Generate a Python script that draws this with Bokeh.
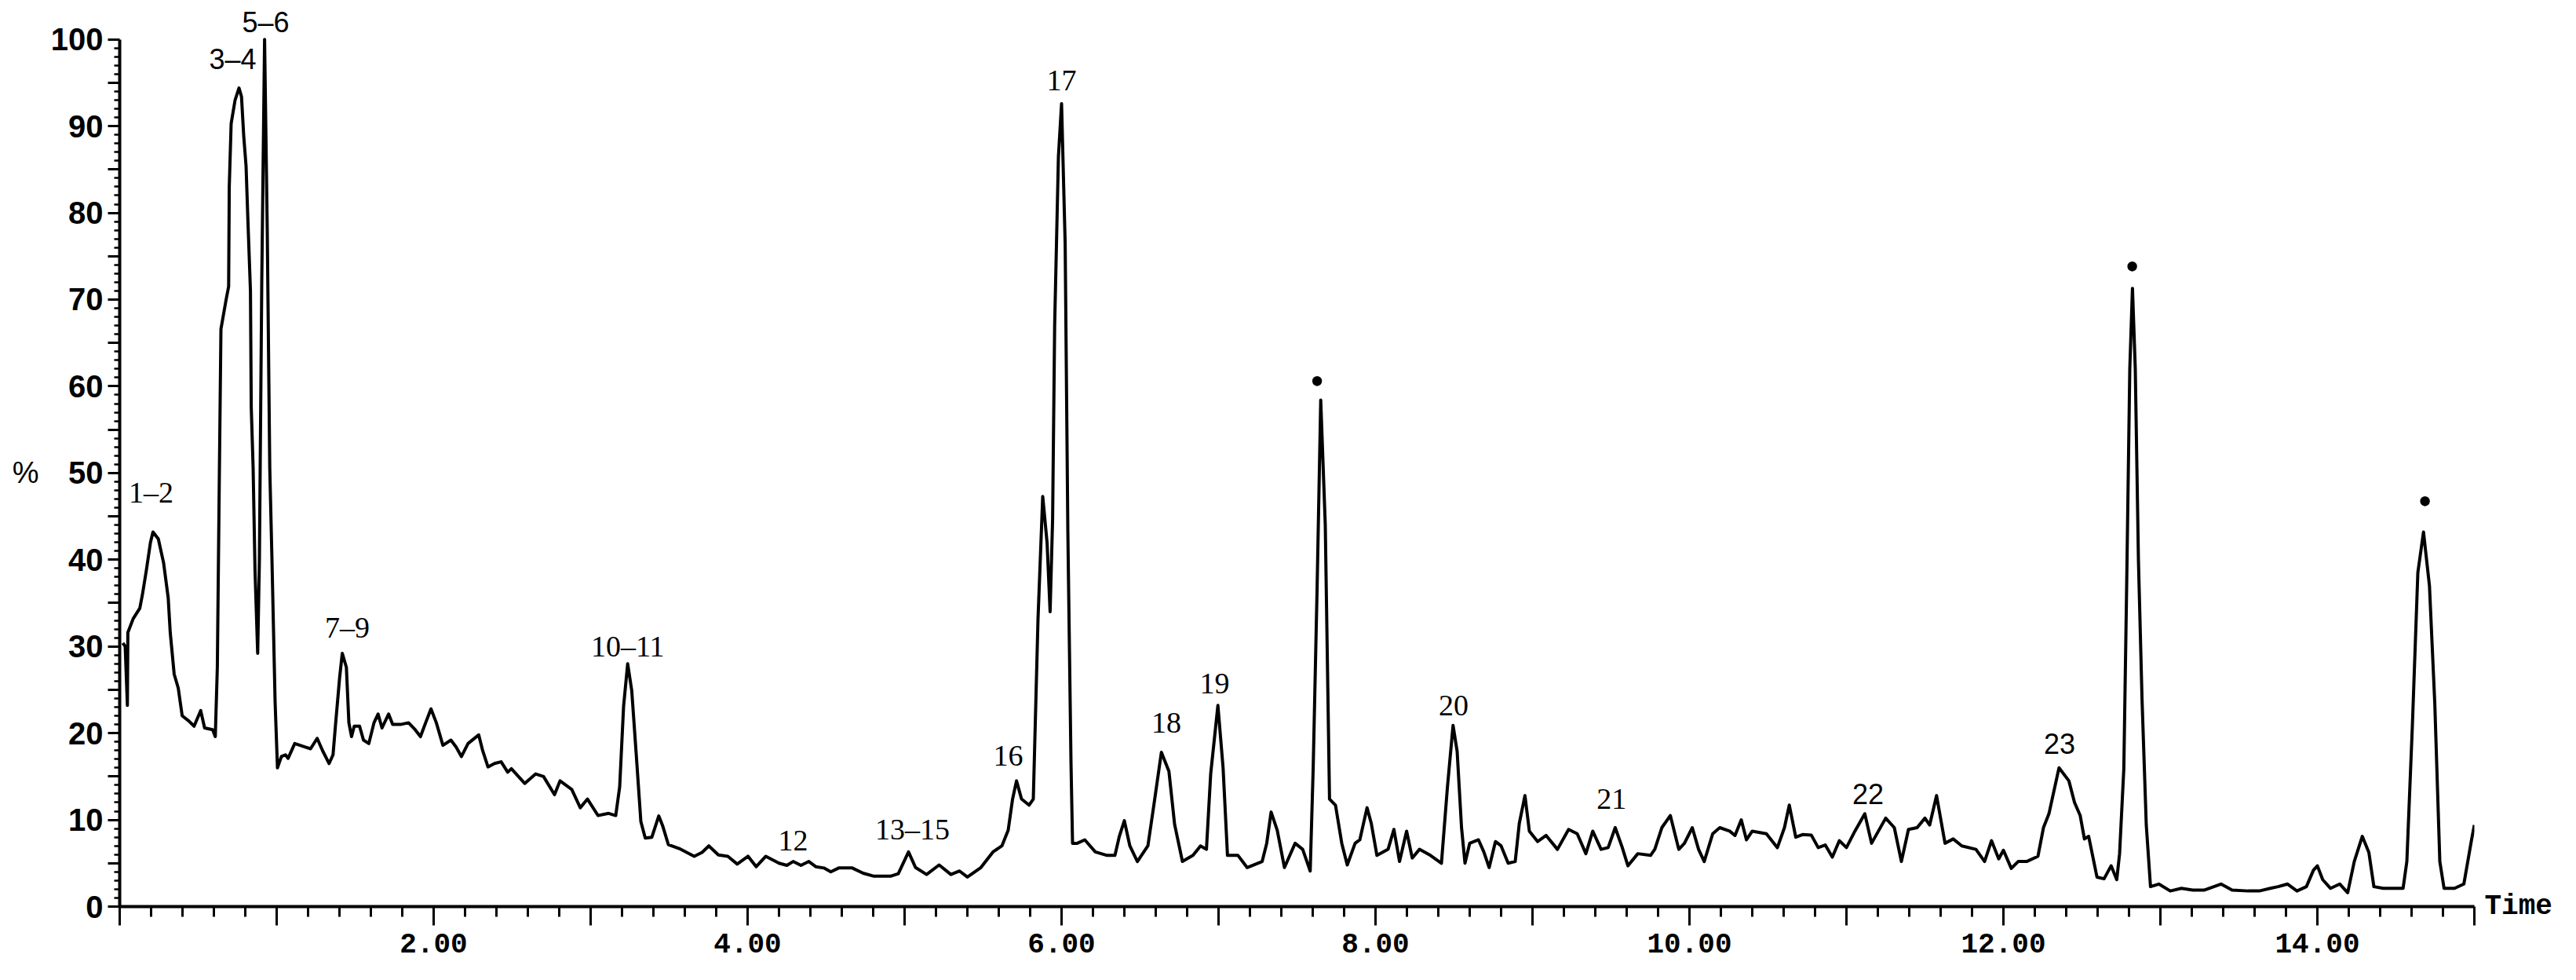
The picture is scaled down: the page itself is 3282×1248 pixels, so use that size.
from bokeh.plotting import figure
from bokeh.models import Range1d, FixedTicker, Label, LinearAxis
from bokeh.embed import file_html
from bokeh.resources import INLINE

# Retention time (min) and relative intensity (%)
rt_min = [
    0.02, 0.035, 0.049, 0.052, 0.086, 0.128, 0.145, 0.17, 0.196, 0.212, 0.246, 0.28, 0.309, 0.322,
    0.347, 0.373, 0.398, 0.44, 0.474, 0.516, 0.541, 0.592, 0.609, 0.622, 0.635, 0.645, 0.678, 0.694,
    0.698, 0.71, 0.735, 0.76, 0.776, 0.79, 0.805, 0.817, 0.833, 0.838, 0.85, 0.862, 0.879, 0.89,
    0.905, 0.923, 0.94, 0.956, 0.97, 0.99, 1.005, 1.03, 1.056, 1.073, 1.115, 1.182, 1.216, 1.258,
    1.292, 1.334, 1.359, 1.376, 1.401, 1.418, 1.444, 1.46, 1.477, 1.494, 1.528, 1.553, 1.587, 1.62,
    1.646, 1.671, 1.713, 1.739, 1.789, 1.84, 1.882, 1.916, 1.949, 1.983, 2.017, 2.059, 2.11, 2.143,
    2.177, 2.219, 2.287, 2.312, 2.346, 2.388, 2.43, 2.472, 2.495, 2.58, 2.65, 2.70, 2.77, 2.805,
    2.88, 2.934, 2.98, 3.047, 3.115, 3.16, 3.185, 3.21, 3.236, 3.262, 3.29, 3.32, 3.348, 3.39,
    3.434, 3.46, 3.495, 3.564, 3.66, 3.71, 3.753, 3.814, 3.874, 3.934, 4.003, 4.055, 4.116, 4.2,
    4.25, 4.29, 4.34, 4.39, 4.434, 4.486, 4.53, 4.58, 4.667, 4.736, 4.805, 4.91, 4.96, 5.025,
    5.07, 5.14, 5.22, 5.295, 5.35, 5.40, 5.486, 5.563, 5.62, 5.66, 5.688, 5.713, 5.745, 5.793,
    5.82, 5.85, 5.88, 5.908, 5.927, 5.943, 5.956, 5.98, 6.0, 6.023, 6.04, 6.06, 6.07, 6.10,
    6.148, 6.215, 6.29, 6.34, 6.368, 6.40, 6.435, 6.483, 6.55, 6.588, 6.636, 6.684, 6.72, 6.77,
    6.837, 6.885, 6.923, 6.95, 6.996, 7.029, 7.057, 7.124, 7.182, 7.278, 7.307, 7.335, 7.374, 7.42,
    7.488, 7.536, 7.584, 7.603, 7.628, 7.651, 7.68, 7.707, 7.745, 7.785, 7.82, 7.87, 7.90, 7.946,
    7.973, 8.009, 8.08, 8.117, 8.153, 8.198, 8.234, 8.28, 8.35, 8.42, 8.458, 8.494, 8.52, 8.548,
    8.57, 8.60, 8.656, 8.69, 8.724, 8.764, 8.80, 8.845, 8.89, 8.916, 8.952, 8.98, 9.033, 9.087,
    9.159, 9.23, 9.285, 9.34, 9.384, 9.437, 9.482, 9.527, 9.572, 9.608, 9.671, 9.752, 9.779, 9.824,
    9.878, 9.932, 9.968, 10.018, 10.058, 10.094, 10.148, 10.193, 10.256, 10.29, 10.33, 10.363, 10.40, 10.49,
    10.56, 10.605, 10.636, 10.677, 10.72, 10.776, 10.82, 10.865, 10.91, 10.955, 11.0, 11.054, 11.117, 11.16,
    11.25, 11.305, 11.35, 11.395, 11.45, 11.5, 11.53, 11.574, 11.628, 11.68, 11.735, 11.825, 11.88, 11.924,
    11.97, 12.0, 12.05, 12.094, 12.148, 12.22, 12.255, 12.29, 12.354, 12.417, 12.453, 12.489, 12.516, 12.543,
    12.596, 12.641, 12.686, 12.722, 12.74, 12.767, 12.785, 12.805, 12.822, 12.84, 12.86, 12.883, 12.91, 12.937,
    12.99, 13.063, 13.134, 13.206, 13.278, 13.386, 13.457, 13.56, 13.63, 13.70, 13.75, 13.81, 13.87, 13.93,
    13.975, 14.0, 14.034, 14.084, 14.143, 14.193, 14.235, 14.286, 14.328, 14.36, 14.42, 14.487, 14.546, 14.57,
    14.605, 14.64, 14.676, 14.714, 14.748, 14.78, 14.807, 14.874, 14.933, 14.958, 14.983, 15.0,
]
intensity = [
    30.4, 30.0, 23.2, 31.6, 33.2, 34.4, 36.0, 38.8, 42.0, 43.2, 42.4, 39.6, 35.6, 31.6,
    26.8, 25.2, 22.0, 21.4, 20.8, 22.6, 20.6, 20.4, 19.6, 27.6, 50.0, 66.6, 70.0, 71.5,
    83.0, 90.3, 93.0, 94.4, 93.4, 88.9, 85.4, 79.0, 71.0, 57.6, 50.6, 38.8, 29.2, 40.0,
    72.0, 100.0, 78.0, 50.6, 40.0, 23.6, 16.0, 17.3, 17.5, 17.1, 18.8, 18.4, 18.2, 19.4,
    18.0, 16.5, 17.5, 21.2, 26.4, 29.2, 27.6, 21.2, 19.6, 20.8, 20.8, 19.2, 18.8, 21.2,
    22.2, 20.6, 22.2, 21.0, 21.0, 21.2, 20.4, 19.6, 21.2, 22.8, 21.2, 18.6, 19.2, 18.4,
    17.3, 18.8, 19.8, 18.0, 16.1, 16.5, 16.7, 15.5, 15.9, 14.2, 15.3, 15.0, 12.9, 14.5,
    13.5, 11.4, 12.4, 10.5, 10.75, 10.5, 13.8, 23.1, 28.0, 24.9, 17.7, 9.8, 7.9, 8.0,
    10.45, 9.25, 7.15, 6.7, 5.8, 6.25, 7.0, 5.95, 5.8, 4.9, 5.8, 4.6, 5.8, 5.0,
    4.75, 5.2, 4.75, 5.2, 4.6, 4.45, 4.0, 4.45, 4.45, 3.85, 3.5, 3.5, 3.8, 6.3,
    4.5, 3.7, 4.8, 3.7, 4.1, 3.4, 4.5, 6.3, 7.0, 8.8, 12.4, 14.5, 12.4, 11.7,
    12.4, 33.2, 47.3, 41.9, 34.0, 44.7, 67.0, 86.5, 92.6, 76.4, 43.3, 16.7, 7.3, 7.3,
    7.7, 6.3, 5.9, 5.9, 8.1, 9.9, 7.0, 5.2, 7.0, 11.7, 17.8, 15.6, 9.5, 5.2,
    5.9, 7.0, 6.6, 15.3, 23.2, 16.0, 5.9, 5.9, 4.5, 5.2, 7.3, 10.9, 8.8, 4.5,
    7.3, 6.6, 4.1, 16.0, 36.8, 58.4, 44.0, 12.4, 11.7, 7.3, 4.8, 7.3, 7.7, 11.4,
    9.6, 5.9, 6.6, 8.9, 5.2, 8.7, 5.6, 6.6, 5.9, 5.0, 13.75, 20.9, 17.9, 9.1,
    5.0, 7.3, 7.7, 6.3, 4.5, 7.5, 7.0, 5.0, 5.2, 9.6, 12.8, 8.7, 7.5, 8.2,
    6.6, 8.9, 8.4, 6.1, 8.7, 6.6, 6.8, 9.1, 6.8, 4.7, 6.1, 5.9, 6.6, 9.1,
    10.5, 6.6, 7.3, 9.1, 6.6, 5.2, 8.4, 9.1, 8.7, 8.2, 10.0, 7.7, 8.7, 8.4,
    6.8, 9.1, 11.7, 8.0, 8.3, 8.25, 6.8, 7.1, 5.7, 7.6, 6.8, 8.7, 10.7, 7.3,
    10.2, 9.1, 5.2, 8.9, 9.1, 10.2, 9.4, 12.8, 7.3, 7.8, 7.0, 6.6, 5.2, 7.6,
    5.5, 6.5, 4.4, 5.2, 5.2, 5.8, 9.1, 10.7, 16.0, 14.5, 12.0, 10.5, 7.8, 8.1,
    3.4, 3.2, 4.7, 3.1, 6.1, 15.9, 36.9, 62.0, 71.3, 62.0, 40.0, 23.9, 9.4, 2.3,
    2.6, 1.8, 2.1, 1.9, 1.9, 2.6, 1.9, 1.8, 1.8, 2.1, 2.3, 2.6, 1.8, 2.3,
    4.2, 4.7, 3.1, 2.1, 2.6, 1.6, 5.2, 8.1, 6.25, 2.3, 2.1, 2.1, 2.1, 5.2,
    20.8, 38.5, 43.2, 37.0, 23.4, 5.2, 2.1, 2.1, 2.6, 5.2, 7.8, 9.4,
]

# Peak annotations
peak_labels = ["1–2", "3–4", "5–6", "7–9", "10–11", "12", "13–15", "16", "17", "18", "19",
               "•", "20", "21", "22", "23", "•", "•"]
label_t = [0.20, 0.72, 0.93, 1.45, 3.236, 4.29, 5.05, 5.66, 6.0, 6.667, 6.975,
           7.628, 8.498, 9.504, 11.138, 12.358, 12.82, 14.686]
label_v = [47.8, 97.7, 102.0, 32.2, 30.0, 7.6, 8.9, 17.4, 95.3, 21.2, 25.7,
           60.6, 23.2, 12.4, 13.0, 18.8, 73.8, 46.7]
sans_labels = {"3–4", "5–6", "22", "23"}

x_major = list(range(0, 16))
x_labelled = [2, 4, 6, 8, 10, 12, 14]
y_major = list(range(0, 101, 5))
y_labelled = list(range(0, 101, 10))
y_title = "%"
x_title = "Time"

p = figure(frame_width=3000, frame_height=1154,
           x_range=Range1d(0, 15), y_range=Range1d(0, 104.5),
           output_backend="svg", toolbar_location=None,
           min_border_left=152, min_border_right=110,
           min_border_top=0, min_border_bottom=70)
p.outline_line_color = None
p.xgrid.visible = False
p.ygrid.visible = False
p.background_fill_color = "white"
p.border_fill_color = "white"

p.line(rt_min, intensity, line_color="black", line_width=4, line_join="round")

# x axis
xa = p.xaxis[0]
xa.ticker = FixedTicker(ticks=x_major,
                        minor_ticks=[round(i * 0.2, 1) for i in range(76) if i % 5 != 0])
xa.major_label_overrides = {float(t): ("%.2f" % t if t in x_labelled else "") for t in x_major}
xa.axis_line_width = 4
xa.axis_line_color = "black"
xa.major_tick_line_width = 3
xa.minor_tick_line_width = 3
xa.major_tick_out = 24
xa.major_tick_in = 0
xa.minor_tick_out = 13
xa.minor_tick_in = 0
xa.major_label_standoff = 10
xa.major_label_text_font = "Liberation Mono"
xa.major_label_text_font_style = "bold"
xa.major_label_text_font_size = "36px"
xa.major_label_text_color = "black"

# y axis (line stops at 100 although the frame goes a little higher)
ya = p.yaxis[0]
ya.bounds = (0, 100)
ya.ticker = FixedTicker(ticks=y_major, minor_ticks=[i for i in range(1, 100) if i % 5 != 0])
ya.major_label_overrides = {float(t): (str(t) if t in y_labelled else "") for t in y_major}
ya.axis_line_width = 4
ya.axis_line_color = "black"
ya.major_tick_line_width = 3
ya.minor_tick_line_width = 2.5
ya.major_tick_out = 15
ya.major_tick_in = 0
ya.minor_tick_out = 7
ya.minor_tick_in = 0
ya.major_label_standoff = 6
ya.major_label_text_font = "Liberation Sans"
ya.major_label_text_font_style = "bold"
ya.major_label_text_font_size = "40px"
ya.major_label_text_color = "black"

# "%" title, left of the y tick labels
pct_axis = LinearAxis(ticker=FixedTicker(ticks=[50]), major_label_overrides={50.0: y_title},
                      axis_line_color=None, major_tick_line_color=None, minor_tick_line_color=None,
                      major_tick_out=0, major_tick_in=0, minor_tick_out=0, minor_tick_in=0,
                      major_label_standoff=12, major_label_text_font="Liberation Sans",
                      major_label_text_font_size="38px", major_label_text_color="black")
p.add_layout(pct_axis, "left")

# "Time" title, at the right end of the x axis
time_axis = LinearAxis(ticker=FixedTicker(ticks=[0]), major_label_overrides={0.0: x_title},
                       axis_line_color=None, major_tick_line_color=None, minor_tick_line_color=None,
                       major_tick_out=0, major_tick_in=0, minor_tick_out=0, minor_tick_in=0,
                       major_label_standoff=13, major_label_text_font="Liberation Mono",
                       major_label_text_font_style="bold", major_label_text_font_size="36px",
                       major_label_text_color="black")
p.add_layout(time_axis, "right")

for txt, t, v in zip(peak_labels, label_t, label_v):
    if txt == "•":
        font, size = "Liberation Serif", "52px"
    elif txt in sans_labels:
        font, size = "Liberation Sans", "36px"
    else:
        font, size = "Liberation Serif", "38px"
    p.add_layout(Label(x=t, y=v, text=txt, text_align="center", text_baseline="middle",
                       text_font=font, text_font_size=size, text_color="black"))

open("out.html", "w").write(file_html(p, INLINE))
